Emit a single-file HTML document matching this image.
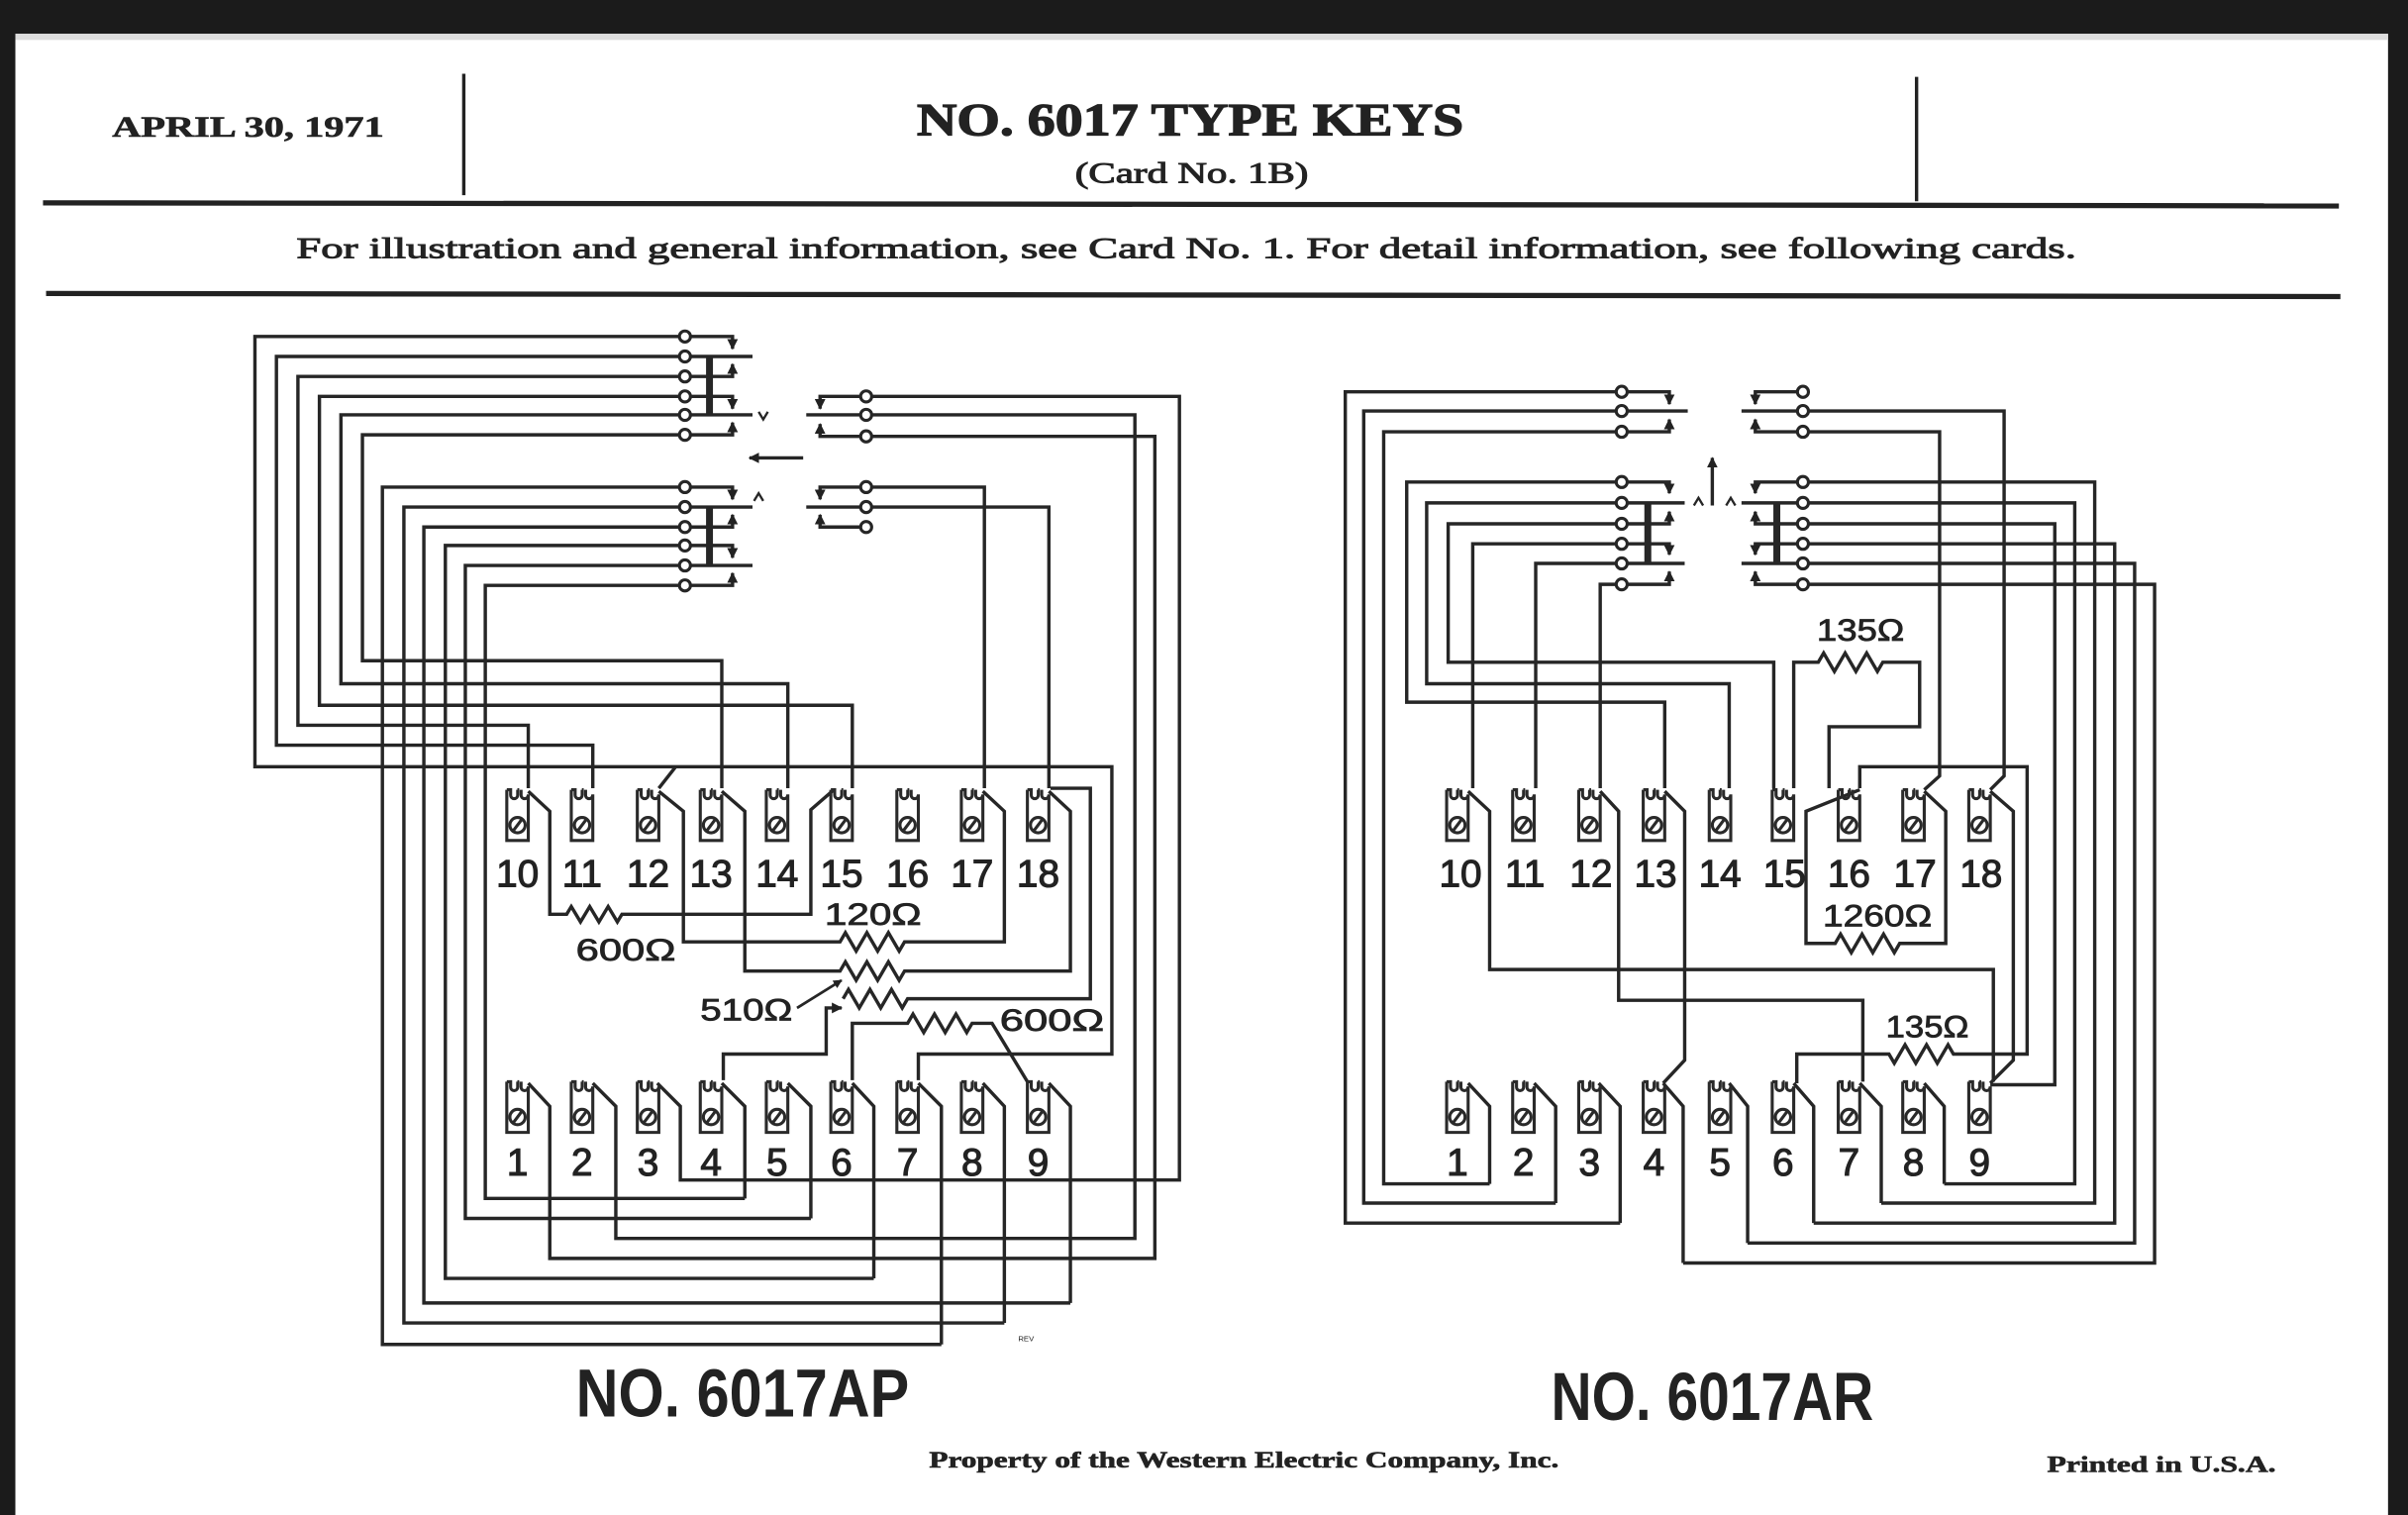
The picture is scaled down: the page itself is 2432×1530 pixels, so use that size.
<!DOCTYPE html>
<html><head><meta charset="utf-8"><style>
html,body{margin:0;padding:0;background:#1b1b1b;}
svg{display:block;}
</style></head><body>
<svg width="2432" height="1530" viewBox="0 0 1568 986" preserveAspectRatio="none" xmlns="http://www.w3.org/2000/svg">
<defs>
<marker id="ah" viewBox="0 0 10 10" refX="9" refY="5" markerWidth="3.2" markerHeight="3.2" orient="auto"><path d="M0,0L10,5L0,10z" fill="#222"/></marker>
<g id="t" fill="none" stroke="#2a2a2a" stroke-width="2"><path d="M-7,1 h2.5 v3.5 a2.3,2.3 0 0 0 4.6,0 v-3.5 h-0.2 M0.2,1 h0 M2.3,1 v3.5 a2.3,2.3 0 0 0 4.6,0 M-7,1 v33 h14 v-30"/><circle cx="0" cy="24" r="5"/><line x1="-3" y1="28" x2="3" y2="20"/></g>
</defs>
<rect x="0" y="0" width="1568" height="986" fill="#1b1b1b"/>
<rect x="10" y="22" width="1545" height="964" fill="#fff"/>
<rect x="10" y="22" width="1545" height="4" fill="#ddd"/>

<!-- header -->
<g font-family="Liberation Serif, serif" font-weight="bold" fill="#222" stroke="#222" stroke-width="0.4">
<text x="73" y="89" font-size="19" textLength="177" lengthAdjust="spacingAndGlyphs">APRIL 30, 1971</text>
<text x="597" y="88" font-size="30" textLength="356" lengthAdjust="spacingAndGlyphs" stroke-width="0.8">NO. 6017 TYPE KEYS</text>
<text x="700" y="119" font-size="19" textLength="152" lengthAdjust="spacingAndGlyphs" font-weight="normal" stroke-width="0.6">(Card No. 1B)</text>
<text x="193" y="168" font-size="19" textLength="1159" lengthAdjust="spacingAndGlyphs" font-weight="normal" stroke-width="0.6">For illustration and general information, see Card No. 1.  For detail information, see following cards.</text>
<text x="605" y="955" font-size="15" textLength="410" lengthAdjust="spacingAndGlyphs">Property of the Western Electric Company, Inc.</text>
<text x="1333" y="958" font-size="15" textLength="149" lengthAdjust="spacingAndGlyphs">Printed in U.S.A.</text>
</g>
<g stroke="#222" fill="none">
<line x1="302" y1="48" x2="302" y2="127" stroke-width="2.2"/>
<line x1="1248" y1="50" x2="1248" y2="131" stroke-width="2.2"/>
<line x1="28" y1="132" x2="1523" y2="134" stroke-width="3.4"/>
<line x1="30" y1="191" x2="1524" y2="193" stroke-width="3.4"/>
</g>

<g font-family="Liberation Sans, sans-serif" fill="#222">
<text x="375" y="922" font-size="44" font-weight="bold" textLength="217" lengthAdjust="spacingAndGlyphs">NO. 6017AP</text>
<text x="1010" y="924" font-size="44" font-weight="bold" textLength="210" lengthAdjust="spacingAndGlyphs">NO. 6017AR</text>
<text x="663" y="873" font-size="5">REV</text>
</g>

<!-- ============ LEFT DIAGRAM ============ -->
<g stroke="#262626" stroke-width="2.2" fill="none" stroke-linejoin="miter">
<path d="M446,219 H166 V499 H724 V686 H598 V703"/>
<path d="M429,513 L440,499"/>
<path d="M446,232 H180 V485 H386 V513"/>
<path d="M446,245 H194 V472 H344 V513"/>
<path d="M446,258 H208 V459 H555 V513"/>
<path d="M446,270 H222 V445 H513 V513"/>
<path d="M446,283 H236 V430 H470 V513"/>
<path d="M446,317 H249 V875 H613"/>
<path d="M446,330 H263 V861 H654"/>
<path d="M446,343 H276 V848 H697"/>
<path d="M446,355 H290 V832 H569"/>
<path d="M446,368 H303 V793 H528"/>
<path d="M446,381 H316 V780 H485"/>
<path d="M446,219 H477 V227" marker-end="url(#ah)"/>
<path d="M446,232 H490"/>
<path d="M446,245 H477 V237" marker-end="url(#ah)"/>
<path d="M446,258 H477 V266" marker-end="url(#ah)"/>
<path d="M446,270 H490"/>
<path d="M446,283 H477 V275" marker-end="url(#ah)"/>
<path d="M446,317 H477 V325" marker-end="url(#ah)"/>
<path d="M446,330 H490"/>
<path d="M446,343 H477 V335" marker-end="url(#ah)"/>
<path d="M446,355 H477 V363" marker-end="url(#ah)"/>
<path d="M446,368 H490"/>
<path d="M446,381 H477 V373" marker-end="url(#ah)"/>
<path d="M494,268 l3,5 l3,-5" stroke-width="1.5"/>
<path d="M491,326 l3,-5 l3,5" stroke-width="1.5"/>
<path d="M564,258 H534 V266" marker-end="url(#ah)"/>
<path d="M564,270 H525"/>
<path d="M564,284 H534 V276" marker-end="url(#ah)"/>
<path d="M564,317 H534 V325" marker-end="url(#ah)"/>
<path d="M564,330 H525"/>
<path d="M564,343 H534 V335" marker-end="url(#ah)"/>
<path d="M564,317 H641 V513"/>
<path d="M564,330 H683 V513"/>
<path d="M523,298 H488" marker-end="url(#ah)"/>
<path d="M344,705 L358,720 V819 H752 V284 H564"/>
<path d="M386,705 L401,720 V806 H739 V270 H564"/>
<path d="M428,705 L443,720 V768 H768 V258 H564"/>
<path d="M470,705 L485,720 V780"/>
<path d="M513,705 L528,720 V793"/>
<path d="M555,705 L569,720 V832"/>
<path d="M598,705 L613,720 V875"/>
<path d="M640,705 L654,720 V861"/>
<path d="M683,705 L697,720 V848"/>
<path d="M344,515 L358,528 V595 H369 l3,-5 l6,10 l6,-10 l6,10 l6,-10 l6,10 l3,-5 H528 V527 L543,514"/>
<path d="M429,515 L445,528 V613 H547 l3.5,-6 l7,12 l7,-12 l7,12 l7,-12 l7,12 l3.5,-6 H654 V528 L640,515"/>
<path d="M470,515 L485,528 V632 H547 l3.5,-6 l7,12 l7,-12 l7,12 l7,-12 l7,12 l3.5,-6 H697 V528 L683,515"/>
<path d="M549,650 l3.5,-6 l7,12 l7,-12 l7,12 l7,-12 l7,12 l3.5,-6 H710 V513 H684"/>
<path d="M555,703 V666 H591 l3.5,-6 l7,12 l7,-12 l7,12 l7,-12 l7,12 l3.5,-6 H646 L669,704"/>
<path d="M471,703 V686 H538 V656 H548" marker-end="url(#ah)"/>
<path d="M519,656 L548,638" marker-end="url(#ah)" stroke-width="1.8"/>
<line x1="462" y1="232" x2="462" y2="270" stroke-width="4.5"/>
<line x1="462" y1="330" x2="462" y2="368" stroke-width="4.5"/>
</g>
<g fill="#fff" stroke="#262626" stroke-width="2">
<circle cx="446" cy="219" r="3.6"/><circle cx="446" cy="232" r="3.6"/><circle cx="446" cy="245" r="3.6"/><circle cx="446" cy="258" r="3.6"/><circle cx="446" cy="270" r="3.6"/><circle cx="446" cy="283" r="3.6"/>
<circle cx="446" cy="317" r="3.6"/><circle cx="446" cy="330" r="3.6"/><circle cx="446" cy="343" r="3.6"/><circle cx="446" cy="355" r="3.6"/><circle cx="446" cy="368" r="3.6"/><circle cx="446" cy="381" r="3.6"/>
<circle cx="564" cy="258" r="3.6"/><circle cx="564" cy="270" r="3.6"/><circle cx="564" cy="284" r="3.6"/>
<circle cx="564" cy="317" r="3.6"/><circle cx="564" cy="330" r="3.6"/><circle cx="564" cy="343" r="3.6"/>
</g>
<g>
<use href="#t" x="337" y="513"/><use href="#t" x="379" y="513"/><use href="#t" x="422" y="513"/><use href="#t" x="463" y="513"/><use href="#t" x="506" y="513"/><use href="#t" x="548" y="513"/><use href="#t" x="591" y="513"/><use href="#t" x="633" y="513"/><use href="#t" x="676" y="513"/>
<use href="#t" x="337" y="703"/><use href="#t" x="379" y="703"/><use href="#t" x="422" y="703"/><use href="#t" x="463" y="703"/><use href="#t" x="506" y="703"/><use href="#t" x="548" y="703"/><use href="#t" x="591" y="703"/><use href="#t" x="633" y="703"/><use href="#t" x="676" y="703"/>
</g>
<g font-family="Liberation Sans, sans-serif" font-size="25" fill="#222" stroke="#222" stroke-width="0.7" text-anchor="middle">
<text x="337" y="577">10</text><text x="379" y="577">11</text><text x="422" y="577">12</text><text x="463" y="577">13</text><text x="506" y="577">14</text><text x="548" y="577">15</text><text x="591" y="577">16</text><text x="633" y="577">17</text><text x="676" y="577">18</text>
<text x="337" y="765">1</text><text x="379" y="765">2</text><text x="422" y="765">3</text><text x="463" y="765">4</text><text x="506" y="765">5</text><text x="548" y="765">6</text><text x="591" y="765">7</text><text x="633" y="765">8</text><text x="676" y="765">9</text>
</g>
<g font-family="Liberation Sans, sans-serif" font-size="20" fill="#222" stroke="#222" stroke-width="0.5">
<text x="375" y="625" textLength="65" lengthAdjust="spacingAndGlyphs">600Ω</text>
<text x="537" y="602" textLength="63" lengthAdjust="spacingAndGlyphs">120Ω</text>
<text x="456" y="664" textLength="60" lengthAdjust="spacingAndGlyphs">510Ω</text>
<text x="651" y="671" textLength="68" lengthAdjust="spacingAndGlyphs">600Ω</text>
</g>

<!-- ============ RIGHT DIAGRAM ============ -->
<g stroke="#262626" stroke-width="2.2" fill="none">
<path d="M1056,255 H876 V796 H1055"/>
<path d="M1056,267.5 H888 V783 H1013"/>
<path d="M1056,281 H901 V770.5 H970"/>
<path d="M1056,255 H1087 V263" marker-end="url(#ah)"/>
<path d="M1056,267.5 H1099"/>
<path d="M1056,281 H1087 V273" marker-end="url(#ah)"/>
<path d="M1174,255 H1143 V263" marker-end="url(#ah)"/>
<path d="M1174,267.5 H1134"/>
<path d="M1174,281 H1143 V273" marker-end="url(#ah)"/>
<path d="M1174,267.5 H1305 V505 L1296,514"/>
<path d="M1174,281 H1263 V505 L1253,514"/>
<path d="M1115,329 V298" marker-end="url(#ah)"/>
<path d="M1056,313.7 H916 V457 H1084 V513"/>
<path d="M1056,327.3 H929 V445 H1126 V513"/>
<path d="M1056,340.9 H943 V431 H1155 V513"/>
<path d="M1056,353.9 H959 V513"/>
<path d="M1056,366.7 H1000 V513"/>
<path d="M1056,380.3 H1042 V513"/>
<path d="M1056,313.7 H1087 V321" marker-end="url(#ah)"/>
<path d="M1056,327.3 H1097"/>
<path d="M1056,340.9 H1087 V333" marker-end="url(#ah)"/>
<path d="M1056,353.9 H1087 V361" marker-end="url(#ah)"/>
<path d="M1056,366.7 H1097"/>
<path d="M1056,380.3 H1087 V372" marker-end="url(#ah)"/>
<path d="M1174,313.7 H1364 V783 H1225"/>
<path d="M1174,327.3 H1351 V770.5 H1266"/>
<path d="M1174,340.9 H1338 V706 H1296"/>
<path d="M1174,353.9 H1377 V796 H1181"/>
<path d="M1174,366.7 H1390 V809 H1138"/>
<path d="M1174,380.3 H1403 V822 H1096"/>
<path d="M1174,313.7 H1143 V321" marker-end="url(#ah)"/>
<path d="M1174,327.3 H1134"/>
<path d="M1174,340.9 H1143 V333" marker-end="url(#ah)"/>
<path d="M1174,353.9 H1143 V361" marker-end="url(#ah)"/>
<path d="M1174,366.7 H1134"/>
<path d="M1174,380.3 H1143 V372" marker-end="url(#ah)"/>
<path d="M1103,329 l3,-5 l3,5" stroke-width="1.5"/>
<path d="M1124,329 l3,-5 l3,5" stroke-width="1.5"/>
<path d="M956,515 L970,528 V631 H1298 V704"/>
<path d="M1042,515 L1054,528 V651 H1213 V704"/>
<path d="M1084,515 L1097,528 V690 L1083,705"/>
<path d="M1296,515 L1311,528 V690 L1296,705"/>
<path d="M1211,514 L1176,528 V614 H1195 l3.5,-6 l7,12 l7,-12 l7,12 l7,-12 l7,12 l3.5,-6 H1267 V528 L1253,515"/>
<path d="M1168,513 V431 H1184 l3.5,-6 l7,12 l7,-12 l7,12 l7,-12 l7,12 l3.5,-6 H1250 V473 H1191 V513"/>
<path d="M1211,513 V499 H1320 V686 H1272 l-3.5,-6 l-7,12 l-7,-12 l-7,12 l-7,-12 l-7,12 l-3.5,-6 H1170 V705"/>
<path d="M956,705 L970,720 V770.5"/>
<path d="M999,705 L1013,720 V783"/>
<path d="M1041,705 L1055,720 V796"/>
<path d="M1083,705 L1096,720 V822"/>
<path d="M1126,705 L1138,720 V809"/>
<path d="M1168,705 L1181,720 V796"/>
<path d="M1211,705 L1225,720 V783"/>
<path d="M1253,705 L1266,720 V770.5"/>
<line x1="1073" y1="327" x2="1073" y2="367" stroke-width="4.5"/>
<line x1="1157" y1="327" x2="1157" y2="367" stroke-width="4.5"/>
</g>
<g fill="#fff" stroke="#262626" stroke-width="2">
<circle cx="1056" cy="255" r="3.6"/><circle cx="1056" cy="267.5" r="3.6"/><circle cx="1056" cy="281" r="3.6"/>
<circle cx="1174" cy="255" r="3.6"/><circle cx="1174" cy="267.5" r="3.6"/><circle cx="1174" cy="281" r="3.6"/>
<circle cx="1056" cy="313.7" r="3.6"/><circle cx="1056" cy="327.3" r="3.6"/><circle cx="1056" cy="340.9" r="3.6"/><circle cx="1056" cy="353.9" r="3.6"/><circle cx="1056" cy="366.7" r="3.6"/><circle cx="1056" cy="380.3" r="3.6"/>
<circle cx="1174" cy="313.7" r="3.6"/><circle cx="1174" cy="327.3" r="3.6"/><circle cx="1174" cy="340.9" r="3.6"/><circle cx="1174" cy="353.9" r="3.6"/><circle cx="1174" cy="366.7" r="3.6"/><circle cx="1174" cy="380.3" r="3.6"/>
</g>
<g>
<use href="#t" x="949" y="513"/><use href="#t" x="992" y="513"/><use href="#t" x="1035" y="513"/><use href="#t" x="1077" y="513"/><use href="#t" x="1120" y="513"/><use href="#t" x="1161" y="513"/><use href="#t" x="1204" y="513"/><use href="#t" x="1246" y="513"/><use href="#t" x="1289" y="513"/>
<use href="#t" x="949" y="703"/><use href="#t" x="992" y="703"/><use href="#t" x="1035" y="703"/><use href="#t" x="1077" y="703"/><use href="#t" x="1120" y="703"/><use href="#t" x="1161" y="703"/><use href="#t" x="1204" y="703"/><use href="#t" x="1246" y="703"/><use href="#t" x="1289" y="703"/>
</g>
<g font-family="Liberation Sans, sans-serif" font-size="25" fill="#222" stroke="#222" stroke-width="0.7" text-anchor="middle">
<text x="951" y="577">10</text><text x="993" y="577">11</text><text x="1036" y="577">12</text><text x="1078" y="577">13</text><text x="1120" y="577">14</text><text x="1162" y="577">15</text><text x="1204" y="577">16</text><text x="1247" y="577">17</text><text x="1290" y="577">18</text>
<text x="949" y="765">1</text><text x="992" y="765">2</text><text x="1035" y="765">3</text><text x="1077" y="765">4</text><text x="1120" y="765">5</text><text x="1161" y="765">6</text><text x="1204" y="765">7</text><text x="1246" y="765">8</text><text x="1289" y="765">9</text>
</g>
<g font-family="Liberation Sans, sans-serif" font-size="20" fill="#222" stroke="#222" stroke-width="0.5">
<text x="1183" y="417" textLength="57" lengthAdjust="spacingAndGlyphs">135Ω</text>
<text x="1187" y="603" textLength="71" lengthAdjust="spacingAndGlyphs">1260Ω</text>
<text x="1228" y="675" textLength="54" lengthAdjust="spacingAndGlyphs">135Ω</text>
</g>
</svg>
</body></html>
